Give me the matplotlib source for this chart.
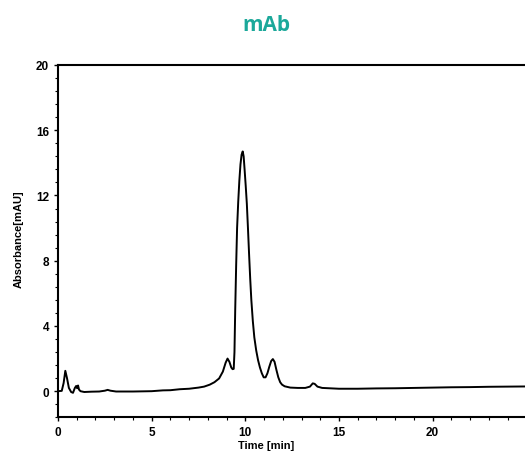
import numpy as np
import matplotlib
matplotlib.use("Agg")
import matplotlib.pyplot as plt
from matplotlib import rc
from matplotlib.ticker import MultipleLocator

rc('font', **{'family': 'sans-serif', 'sans-serif': ['Liberation Sans', 'DejaVu Sans'], 'size': 8})

# chromatogram trace (time [min], absorbance [mAU])
time_min = [0.0, 0.2, 0.3, 0.39, 0.48, 0.58, 0.7, 0.8, 0.9, 0.97, 1.02, 1.07, 1.12, 1.2,
            1.4, 1.8, 2.2, 2.5, 2.65, 2.8, 3.1, 4.0, 5.0, 5.6, 6.0, 6.5, 7.0, 7.5, 7.8,
            8.1, 8.35, 8.6, 8.8, 8.95, 9.05, 9.15, 9.25, 9.32, 9.38, 9.42, 9.46, 9.51,
            9.56, 9.62, 9.68, 9.74, 9.80, 9.86, 9.91, 9.96, 10.02, 10.08, 10.14, 10.20,
            10.26, 10.32, 10.40, 10.48, 10.58, 10.68, 10.78, 10.88, 10.98, 11.08, 11.18,
            11.28, 11.38, 11.47, 11.56, 11.66, 11.76, 11.86, 11.96, 12.1, 12.4, 12.8,
            13.2, 13.45, 13.6, 13.7, 13.85, 14.1, 15.0, 16.0, 17.0, 18.0, 19.0, 20.0,
            21.0, 22.0, 23.0, 24.0, 25.0]
absorbance = [0.0, 0.02, 0.5, 1.25, 0.8, 0.2, -0.05, -0.1, 0.2, 0.32, 0.18, 0.35, 0.1, 0.0,
              -0.05, -0.03, -0.02, 0.03, 0.08, 0.03, -0.02, -0.02, 0.0, 0.05, 0.06, 0.12,
              0.15, 0.22, 0.28, 0.4, 0.55, 0.78, 1.2, 1.75, 2.0, 1.8, 1.45, 1.35, 1.37,
              2.4, 5.0, 7.7, 10.0, 11.6, 12.9, 13.9, 14.5, 14.7, 14.4, 13.6, 12.6, 11.5,
              10.0, 8.4, 6.9, 5.6, 4.3, 3.3, 2.5, 1.9, 1.45, 1.1, 0.85, 0.85, 1.1, 1.5,
              1.85, 1.97, 1.8, 1.3, 0.85, 0.55, 0.4, 0.3, 0.22, 0.2, 0.2, 0.28, 0.48,
              0.45, 0.28, 0.2, 0.15, 0.15, 0.17, 0.18, 0.2, 0.22, 0.24, 0.25, 0.27, 0.28,
              0.29]

x_ticks = [0, 5, 10, 15, 20]
y_ticks = [0, 4, 8, 12, 16, 20]

fig = plt.figure(figsize=(5.25, 4.52), dpi=100)
ax = fig.add_axes([0.1105, 0.0746, 0.892, 0.7794])

ax.plot(time_min, absorbance, color='black', linewidth=1.4)

ax.set_xlim(0, 25)
ax.set_ylim(-1.6, 20)
ax.set_xticks(x_ticks)
ax.set_yticks(y_ticks)
ax.xaxis.set_minor_locator(MultipleLocator(1))
ax.yaxis.set_minor_locator(MultipleLocator(0.8))
ax.tick_params(which='major', direction='out', length=3, width=1, labelsize=8.5)
ax.tick_params(which='minor', direction='out', length=2, width=0.8)
for lab in ax.get_xticklabels() + ax.get_yticklabels():
    lab.set_fontweight('bold')

for s in ['left', 'bottom', 'top']:
    ax.spines[s].set_linewidth(1.5)
ax.spines['right'].set_visible(False)

fig.text(0.036, 0.47, "Absorbance[mAU]", rotation=90, ha='center', va='center',
         fontsize=8, fontweight='bold')
fig.text(0.507, 0.013, "Time [min]", ha='center', va='center',
         fontsize=8, fontweight='bold')
fig.text(0.507, 0.943, "mAb", ha='center', va='center', fontsize=15,
         fontweight='bold', color='#1ba89a', family='Open Sans')

plt.savefig("out.png", dpi=100)
